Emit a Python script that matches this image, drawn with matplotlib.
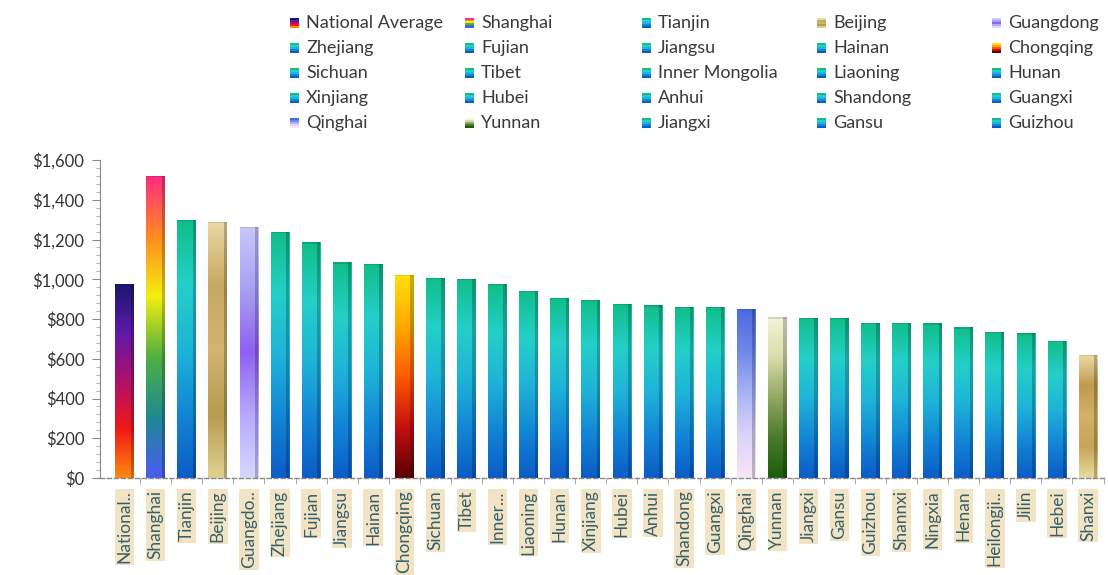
import numpy as np
import matplotlib
matplotlib.use('Agg')
import matplotlib.pyplot as plt
from matplotlib.colors import LinearSegmentedColormap
from matplotlib.patches import Rectangle
from matplotlib.ticker import FuncFormatter, MultipleLocator, AutoMinorLocator

# ------------------------------------------------------------
# Data
# ------------------------------------------------------------
regions = ['National Average', 'Shanghai', 'Tianjin', 'Beijing', 'Guangdong',
           'Zhejiang', 'Fujian', 'Jiangsu', 'Hainan', 'Chongqing',
           'Sichuan', 'Tibet', 'Inner Mongolia', 'Liaoning', 'Hunan',
           'Xinjiang', 'Hubei', 'Anhui', 'Shandong', 'Guangxi',
           'Qinghai', 'Yunnan', 'Jiangxi', 'Gansu', 'Guizhou',
           'Shannxi', 'Ningxia', 'Henan', 'Heilongjiang', 'Jilin',
           'Hebei', 'Shanxi']
tick_labels = ['National..', 'Shanghai', 'Tianjin', 'Beijing', 'Guangdo..',
               'Zhejiang', 'Fujian', 'Jiangsu', 'Hainan', 'Chongqing',
               'Sichuan', 'Tibet', 'Inner...', 'Liaoning', 'Hunan',
               'Xinjiang', 'Hubei', 'Anhui', 'Shandong', 'Guangxi',
               'Qinghai', 'Yunnan', 'Jiangxi', 'Gansu', 'Guizhou',
               'Shannxi', 'Ningxia', 'Henan', 'Heilongji..', 'Jilin',
               'Hebei', 'Shanxi']
spending = [978, 1522, 1300, 1290, 1265,
            1240, 1185, 1085, 1078, 1022,
            1008, 1002, 975, 942, 908,
            895, 875, 868, 862, 860,
            850, 808, 805, 805, 782,
            780, 778, 758, 735, 728,
            690, 620]
n_legend = 25  # the legend overflows; only the first 25 entries are shown

# ------------------------------------------------------------
# Styles: gradient stops per bar (bottom -> top)
# ------------------------------------------------------------
default_stops = ['#0b5cc6', '#1386d6', '#1fb4d8', '#24cfc8', '#10be8a']
special_stops = {
    'National Average': ['#ff8a10', '#f01818', '#b0106c', '#5c1aa8', '#1a176e'],
    'Shanghai': ['#4a5cf0', '#1f8a92', '#4fb040', '#f4ee10', '#ff8a20', '#ff2a82'],
    'Beijing': ['#e0d090', '#b89c50', '#d2b470', '#c8a860', '#ecd8a4'],
    'Guangdong': ['#d8d8ff', '#b8a8ff', '#9060f0', '#a8a0f4', '#c8c8fa'],
    'Chongqing': ['#5a0008', '#c41010', '#ff5a00', '#ffaa00', '#ffe010'],
    'Qinghai': ['#fae4f8', '#dcd4fa', '#a8b4f4', '#7088e8', '#4a6ae0'],
    'Yunnan': ['#1c5c0c', '#4a7a2a', '#90a860', '#d8dcaa', '#f4f4d8'],
    'Shanxi': ['#e8dca0', '#c8a458', '#d4b068', '#c09a50', '#ecdca8'],
}


def stops_for(name):
    return special_stops.get(name, default_stops)


fig = plt.figure(figsize=(11.08, 5.75), dpi=100)
ax = fig.add_axes([0.09, 0.1687, 0.906, 0.553])

x = np.arange(len(regions))
width = 0.6
bars = ax.bar(x, spending, width=width, color='none', edgecolor='none', zorder=2)

grad = np.linspace(0, 1, 256).reshape(-1, 1)
for bar, name in zip(bars, regions):
    cmap = LinearSegmentedColormap.from_list(name, stops_for(name))
    x0, w, h = bar.get_x(), bar.get_width(), bar.get_height()
    im = ax.imshow(grad, cmap=cmap, extent=[x0, x0 + w, 0, h],
                   origin='lower', aspect='auto', zorder=2, interpolation='bicubic')
    im.set_clip_path(bar)
    # darker right face for the 3-D look
    ax.add_patch(Rectangle((x0 + w * 0.82, 0), w * 0.18, h,
                           facecolor='black', alpha=0.22, edgecolor='none', zorder=3))
    # little top cap
    ax.add_patch(Rectangle((x0, h - 6), w, 6, facecolor='black', alpha=0.12,
                           edgecolor='none', zorder=3))

ax.set_xlim(-0.8, len(regions) - 0.55)
ax.set_ylim(0, 1600)

# y axis
ax.yaxis.set_major_locator(MultipleLocator(200))
ax.yaxis.set_minor_locator(AutoMinorLocator(5))
ax.yaxis.set_major_formatter(FuncFormatter(lambda v, p: f'${v:,.0f}'))
ax.tick_params(axis='y', which='major', length=6, width=0.8, color='#888888',
               labelsize=12, labelcolor='#333333', pad=5)
ax.tick_params(axis='y', which='minor', length=3, width=0.6, color='#aaaaaa')
for lbl in ax.get_yticklabels():
    lbl.set_family('Lato')

# x axis
ax.set_xticks(x)
ax.set_xticklabels(tick_labels, rotation=90, ha='center', va='top',
                   fontsize=12.5, color='#35606a', family='Lato')
ax.set_xticks(np.arange(len(regions)) + 0.5, minor=True)
ax.tick_params(axis='x', which='major', length=0, pad=9)
ax.tick_params(axis='x', which='minor', length=4, width=0.6, color='#999999')
for lbl in ax.get_xticklabels():
    lbl.set_bbox(dict(facecolor='#f2e3c4', edgecolor='none', pad=1.2))

for side in ['top', 'right']:
    ax.spines[side].set_visible(False)
ax.spines['left'].set_color('#888888')
ax.spines['bottom'].set_color('#888888')
ax.spines['bottom'].set_linestyle((0, (3, 2)))
ax.spines['bottom'].set_linewidth(1.0)

# ------------------------------------------------------------
# Legend: 5 columns, filled row by row, swatch + label
# ------------------------------------------------------------
col_x = [290, 465, 642, 817, 992]
row_y = [23, 48, 73, 98, 123]
W, H = 1108, 575
for i, name in enumerate(regions[:n_legend]):
    r, c = divmod(i, 5)
    px, py = col_x[c], row_y[r]
    stops = stops_for(name)
    n = len(stops)
    sw, sh = 9, 10
    for k, col in enumerate(stops):
        fig.patches.append(Rectangle((px / W, (H - py - sh / 2 + k * sh / n) / H),
                                     sw / W, sh / n / H, facecolor=col, edgecolor='none',
                                     transform=fig.transFigure, figure=fig))
    fig.text((px + 16) / W, (H - py) / H, name, ha='left', va='center',
             fontsize=13, color='#3a3a3a', family='Lato')

fig.savefig('out.png', dpi=100)
print('Saved out.png')
